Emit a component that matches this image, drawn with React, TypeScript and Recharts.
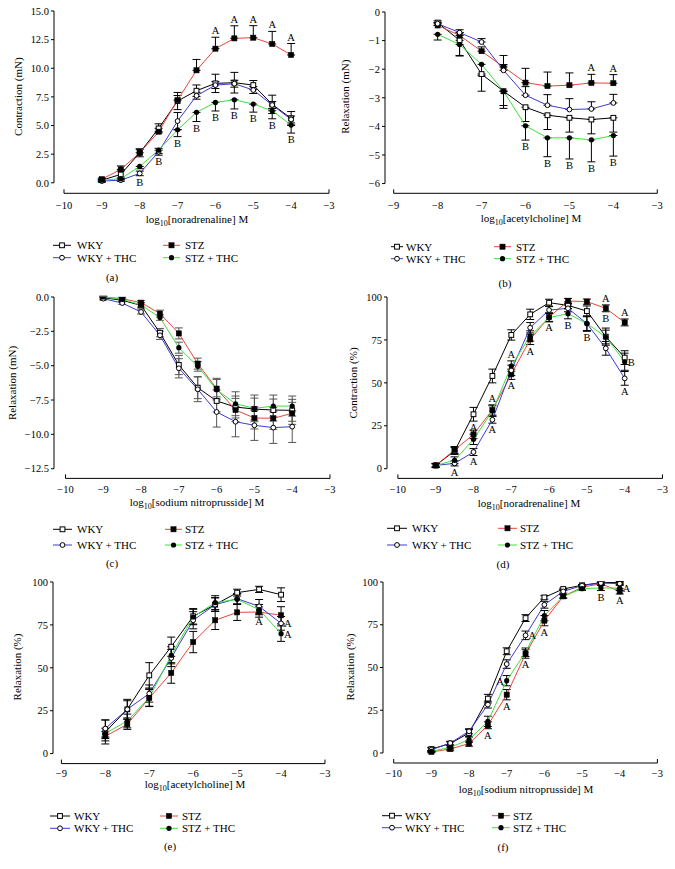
import React from 'react';
import { ComposedChart, Line, XAxis, YAxis, ErrorBar, ReferenceLine, ReferenceDot } from 'recharts';

// ---------- DATA ----------
const xFull = [-9, -8.5, -8, -7.5, -7, -6.5, -6, -5.5, -5, -4.5, -4];
const xAch = [-8, -7.5, -7, -6.5, -6, -5.5, -5, -4.5, -4];

const seriesNames = ['WKY', 'STZ', 'WKY + THC', 'STZ + THC'];

// (a) noradrenaline, mN
const aWKY = [0.23, 0.73, 2.62, 4.75, 7.14, 8.04, 8.68, 8.74, 8.53, 6.85, 5.62];
const aSTZ = [0.32, 1.17, 2.62, 4.46, 7.22, 9.82, 11.71, 12.61, 12.67, 12.12, 11.16];
const aWKYTHC = [0.15, 0.23, 0.82, 2.71, 5.39, 7.6, 8.53, 8.65, 8.1, 6.79, 5.53];
const aSTZTHC = [0.23, 0.35, 1.43, 2.85, 4.63, 6.15, 7.02, 7.25, 6.87, 6.29, 5.04];
const aWKYe = [0.1, 0.3, 0.35, 0.4, 0.75, 0.5, 0.8, 0.9, 0.4, 0.8, 0.6];
const aSTZe = [0.1, 0.3, 0.3, 0.3, 0.4, 0.95, 1.0, 1.1, 1.05, 1.1, 1.0];
const aWKYTHCe = [0.1, 0.1, 0.2, 0.3, 0.75, 0.3, 0.3, 0.3, 0.3, 0.3, 0.3];
const aSTZTHCe = [0.1, 0.1, 0.2, 0.3, 0.6, 0.8, 0.75, 0.8, 0.7, 0.7, 0.7];
const aNotes = [
  { x: -6, s: 'stz', t: 'A', p: 'above' },
  { x: -5.5, s: 'stz', t: 'A', p: 'above' },
  { x: -5, s: 'stz', t: 'A', p: 'above' },
  { x: -4.5, s: 'stz', t: 'A', p: 'above' },
  { x: -4, s: 'stz', t: 'A', p: 'above' },
  { x: -8, s: 'wkyThc', t: 'B', p: 'below' },
  { x: -7.5, s: 'wkyThc', t: 'B', p: 'below' },
  { x: -7, s: 'stzThc', t: 'B', p: 'below' },
  { x: -6.5, s: 'stzThc', t: 'B', p: 'below' },
  { x: -6, s: 'stzThc', t: 'B', p: 'below' },
  { x: -5.5, s: 'stzThc', t: 'B', p: 'below' },
  { x: -5, s: 'stzThc', t: 'B', p: 'below' },
  { x: -4.5, s: 'stzThc', t: 'B', p: 'below' },
  { x: -4, s: 'stzThc', t: 'B', p: 'below' },
];

// (b) acetylcholine, mN
const bWKY = [-0.37, -0.99, -2.17, -2.77, -3.33, -3.61, -3.7, -3.76, -3.7];
const bSTZ = [-0.47, -0.82, -1.37, -1.92, -2.47, -2.59, -2.56, -2.48, -2.49];
const bWKYTHC = [-0.41, -0.72, -1.05, -2.04, -2.91, -3.26, -3.41, -3.39, -3.18];
const bSTZTHC = [-0.78, -1.14, -1.83, -2.77, -3.98, -4.4, -4.4, -4.47, -4.32];
const bWKYe = [0.1, 0.55, 0.6, 0.6, 0.5, 0.5, 0.5, 0.5, 0.5];
const bSTZe = [0.1, 0.1, 0.15, 0.4, 0.5, 0.49, 0.43, 0.3, 0.3];
const bWKYTHCe = [0.1, 0.1, 0.12, 0.2, 0.3, 0.37, 0.38, 0.25, 0.3];
const bSTZTHCe = [0.2, 0.38, 0.4, 0.5, 0.5, 0.66, 0.74, 0.77, 0.72];
const bNotes = [
  { x: -4.5, s: 'stz', t: 'A', p: 'above' },
  { x: -4, s: 'stz', t: 'A', p: 'above' },
  { x: -6, s: 'stzThc', t: 'B', p: 'below' },
  { x: -5.5, s: 'stzThc', t: 'B', p: 'below' },
  { x: -5, s: 'stzThc', t: 'B', p: 'below' },
  { x: -4.5, s: 'stzThc', t: 'B', p: 'below' },
  { x: -4, s: 'stzThc', t: 'B', p: 'below' },
];

// (c) sodium nitroprusside, mN
const cWKY = [-0.05, -0.24, -0.61, -2.6, -4.95, -6.6, -7.57, -8.01, -8.16, -8.23, -8.25];
const cSTZ = [0, -0.12, -0.41, -1.21, -2.65, -4.85, -6.67, -8.23, -8.81, -8.83, -8.47];
const cWKYTHC = [-0.12, -0.44, -1.09, -2.79, -5.19, -6.72, -8.37, -9.08, -9.34, -9.51, -9.44];
const cSTZTHC = [0, -0.17, -0.58, -1.5, -3.69, -5.05, -6.75, -7.77, -8.11, -7.94, -7.94];
const cWKYe = [0.1, 0.1, 0.2, 0.3, 0.7, 0.8, 0.8, 0.8, 0.8, 0.8, 0.8];
const cSTZe = [0.05, 0.1, 0.15, 0.25, 0.4, 0.4, 0.75, 0.85, 0.8, 0.8, 0.8];
const cWKYTHCe = [0.1, 0.1, 0.15, 0.3, 0.7, 0.9, 1.1, 1.1, 1.1, 1.15, 1.15];
const cSTZTHCe = [0.05, 0.1, 0.15, 0.2, 0.4, 0.35, 0.75, 0.87, 0.97, 0.8, 0.73];
const cNotes: any[] = [];

// (d) noradrenaline, %
const dWKY = [1.9, 10.3, 31.7, 54.0, 77.9, 89.9, 96.7, 95.1, 91.8, 76.9, 64.7];
const dSTZ = [1.9, 10.9, 20.0, 34.2, 55.0, 75.3, 88.3, 97.7, 97.3, 93.4, 85.2];
const dWKYTHC = [1.9, 3.1, 9.7, 28.5, 57.3, 82.1, 92.4, 93.4, 84.5, 70.1, 52.6];
const dSTZTHC = [1.9, 4.9, 17.1, 33.6, 59.8, 77.3, 88.0, 90.3, 84.5, 76.7, 62.3];
const dWKYe = [1, 2, 4, 4, 3, 3, 2, 2, 3, 5, 4];
const dSTZe = [1, 2, 2.5, 3, 3, 3, 2.5, 1.5, 1.5, 2, 2];
const dWKYTHCe = [1, 1.5, 2, 2, 3, 3, 2, 2, 4, 4, 4];
const dSTZTHCe = [1, 2, 3, 3, 3, 3, 2.5, 3, 4.5, 4, 5];
const dNotes = [
  { x: -8.5, s: 'wkyThc', t: 'A', p: 'below' },
  { x: -8, s: 'wkyThc', t: 'A', p: 'below' },
  { x: -8, s: 'wky', t: 'A', p: 'below' },
  { x: -7.5, s: 'stz', t: 'A', p: 'above' },
  { x: -7.5, s: 'wkyThc', t: 'A', p: 'below' },
  { x: -7, s: 'stzThc', t: 'A', p: 'above' },
  { x: -7, s: 'stz', t: 'A', p: 'below' },
  { x: -6.5, s: 'stz', t: 'A', p: 'below' },
  { x: -6, s: 'stz', t: 'A', p: 'below' },
  { x: -5.5, s: 'stzThc', t: 'B', p: 'below' },
  { x: -5, s: 'stzThc', t: 'B', p: 'below' },
  { x: -4.5, s: 'stz', t: 'A', p: 'above' },
  { x: -4.5, s: 'stz', t: 'B', p: 'below' },
  { x: -4, s: 'stz', t: 'A', p: 'above' },
  { x: -4, s: 'stzThc', t: 'B', p: 'right' },
  { x: -4, s: 'wkyThc', t: 'A', p: 'below' },
];

// (e) acetylcholine, %
const eWKY = [12.6, 25.8, 45.6, 62.3, 80.0, 86.8, 93.8, 95.7, 92.6];
const eSTZ = [10.1, 17.1, 32.4, 47.0, 65.0, 77.7, 82.3, 82.5, 80.6];
const eWKYTHC = [14.6, 25.8, 35.0, 55.7, 77.7, 86.8, 90.3, 85.8, 75.9];
const eSTZTHC = [11.8, 19.0, 32.6, 57.3, 79.6, 88.0, 89.9, 83.9, 69.9];
const eWKYe = [7, 5.8, 7.4, 5.6, 4.5, 4, 2, 1.8, 4];
const eSTZe = [2.7, 3, 5, 6, 6.2, 5.4, 4.7, 3, 5];
const eWKYTHCe = [5, 5, 5, 5, 5, 4, 3, 4, 4];
const eSTZTHCe = [3, 4, 5, 5, 4.5, 4, 3, 3, 4.5];
const eNotes = [
  { x: -4.5, s: 'stzThc', t: 'A', p: 'below' },
  { x: -4, s: 'wkyThc', t: 'A', p: 'right' },
  { x: -4, s: 'stzThc', t: 'A', p: 'right' },
];

// (f) sodium nitroprusside, %
const fWKY = [2.3, 5.5, 11.7, 31.8, 59.5, 78.9, 91.0, 95.9, 98.1, 99.6, 99.8];
const fSTZ = [0.6, 2.3, 5.5, 16.2, 34.1, 57.9, 77.4, 91.6, 96.9, 99.0, 94.5];
const fWKYTHC = [1.9, 5.8, 12.7, 28.3, 52.0, 68.8, 86.7, 94.5, 97.9, 99.4, 99.0];
const fSTZTHC = [1.0, 3.3, 7.8, 18.5, 42.3, 58.9, 80.3, 91.6, 96.1, 96.5, 96.5];
const fWKYe = [1, 1, 2, 2.5, 2, 2, 1, 0.5, 0.5, 0.5, 0.5];
const fSTZe = [0.5, 1, 1.5, 2, 3, 2.5, 3, 1, 1, 0.5, 1.5];
const fWKYTHCe = [1, 1, 1.5, 2, 2.5, 2.5, 2, 1, 0.5, 0.5, 0.5];
const fSTZTHCe = [0.5, 1, 1.5, 3, 3, 2.5, 3, 1, 1, 1.5, 1.5];
const fNotes = [
  { x: -7.5, s: 'stz', t: 'A', p: 'below' },
  { x: -7, s: 'stz', t: 'A', p: 'below' },
  { x: -7, s: 'stzThc', t: 'A', p: 'left' },
  { x: -6.5, s: 'stz', t: 'A', p: 'below' },
  { x: -6.5, s: 'wkyThc', t: 'A', p: 'right' },
  { x: -6, s: 'stz', t: 'A', p: 'below' },
  { x: -4.5, s: 'stzThc', t: 'B', p: 'below' },
  { x: -4, s: 'stzThc', t: 'A', p: 'right' },
  { x: -4, s: 'stz', t: 'A', p: 'below' },
];

const ticks10 = [-10, -9, -8, -7, -6, -5, -4, -3];
const ticks9 = [-9, -8, -7, -6, -5, -4, -3];

// ---------- STYLE ----------
const FONT = "'Liberation Serif', 'Times New Roman', 'DejaVu Serif', serif";
const KEYS = ['wky', 'stz', 'wkyThc', 'stzThc'];
const COLORS: any = { wky: '#000000', stz: '#e8443a', wkyThc: '#3a3ad0', stzThc: '#3fde3f' };

const minus = (s: string) => s.replace('-', '\u2212');
const fmt = (d: number) => (v: number) => minus(v.toFixed(d));

function marker(k: string, cx: number, cy: number, key?: any) {
  if (cx == null || cy == null || isNaN(cx) || isNaN(cy)) return <g key={key} />;
  if (k === 'wky') return <rect key={key} x={cx - 2.4} y={cy - 2.4} width={4.8} height={4.8} fill="#fff" stroke="#000" strokeWidth={1} />;
  if (k === 'stz') return <rect key={key} x={cx - 2.6} y={cy - 2.6} width={5.2} height={5.2} fill="#000" stroke="#000" strokeWidth={0.5} />;
  if (k === 'wkyThc') return <circle key={key} cx={cx} cy={cy} r={2.4} fill="#fff" stroke="#000" strokeWidth={1} />;
  return <circle key={key} cx={cx} cy={cy} r={2.6} fill="#000" />;
}

const errVal = (dir: string, e: number) => (dir === 'up' ? [0, e] : dir === 'down' ? [e, 0] : e);

const panels: any[] = [
  {
    id: 'a', xs: xFull, vals: { wky: aWKY, stz: aSTZ, wkyThc: aWKYTHC, stzThc: aSTZTHC },
    errs: { wky: aWKYe, stz: aSTZe, wkyThc: aWKYTHCe, stzThc: aSTZTHCe },
    dirs: { wky: 'both', stz: 'up', wkyThc: 'both', stzThc: 'down' }, notes: aNotes,
    xTicks: ticks10, yTicks: [0, 2.5, 5, 7.5, 10, 12.5, 15], yFmt: fmt(1), tickGap: 6,
    plot: { l: 54, t: 10.7, r: 329, b: 193 }, xMin: -10.264, yDomain: [-0.917, 15], yRange: [0, 15],
    xLabel: 'noradrenaline', xLab: [197, 219], yLabel: 'Contraction (mN)', yLab: [18.3, 96.7],
    legend: { rows: [245.3, 257.7], cols: [[53, 71, 77], [163, 180, 185]] }, cap: [112, 276.7], errStroke: '#000',
  },
  {
    id: 'b', xs: xAch, vals: { wky: bWKY, stz: bSTZ, wkyThc: bWKYTHC, stzThc: bSTZTHC },
    errs: { wky: bWKYe, stz: bSTZe, wkyThc: bWKYTHCe, stzThc: bSTZTHCe },
    dirs: { wky: 'down', stz: 'up', wkyThc: 'up', stzThc: 'down' }, notes: bNotes,
    xTicks: ticks9, yTicks: [-6, -5, -4, -3, -2, -1, 0], yFmt: fmt(0), tickGap: 6,
    plot: { l: 385, t: 11.7, r: 657.3, b: 193 }, xMin: -9.198, yDomain: [-6.34, 0], yRange: [-6, 0],
    xLabel: 'acetylcholine', xLab: [531, 218], yLabel: 'Relaxation (mN)', yLab: [345, 96.7],
    legend: { rows: [246.7, 258.7], cols: [[391, 403, 406], [494, 511, 516]] }, cap: [505, 283.3], errStroke: '#000',
  },
  {
    id: 'c', xs: xFull, vals: { wky: cWKY, stz: cSTZ, wkyThc: cWKYTHC, stzThc: cSTZTHC },
    errs: { wky: cWKYe, stz: cSTZe, wkyThc: cWKYTHCe, stzThc: cSTZTHCe },
    dirs: { wky: 'both', stz: 'both', wkyThc: 'both', stzThc: 'both' }, notes: cNotes,
    xTicks: ticks10, yTicks: [-12.5, -10, -7.5, -5, -2.5, 0], yFmt: fmt(1), tickGap: 5,
    plot: { l: 54, t: 297.3, r: 330, b: 478.7 }, xMin: -10.304, yDomain: [-13.206, 0], yRange: [-12.5, 0],
    xLabel: 'sodium nitroprusside', xLab: [197, 502], yLabel: 'Relaxation (mN)', yLab: [11.7, 383],
    legend: { rows: [529.3, 545], cols: [[53, 72, 77], [165, 182, 185]] }, cap: [112, 563.3], errStroke: '#555',
  },
  {
    id: 'd', xs: xFull, vals: { wky: dWKY, stz: dSTZ, wkyThc: dWKYTHC, stzThc: dSTZTHC },
    errs: { wky: dWKYe, stz: dSTZe, wkyThc: dWKYTHCe, stzThc: dSTZTHCe },
    dirs: { wky: 'both', stz: 'both', wkyThc: 'both', stzThc: 'both' }, notes: dNotes,
    xTicks: ticks10, yTicks: [0, 25, 50, 75, 100], yFmt: fmt(0), tickGap: 5,
    plot: { l: 387.3, t: 297.3, r: 662.8, b: 478.7 }, xMin: -10.288, yDomain: [-5.65, 100], yRange: [0, 100],
    xLabel: 'noradrenaline', xLab: [529, 503], yLabel: 'Contraction (%)', yLab: [353, 383],
    legend: { rows: [528.3, 545], cols: [[387, 407, 412], [498, 517, 520]] }, cap: [503, 564], errStroke: '#000',
  },
  {
    id: 'e', xs: xAch, vals: { wky: eWKY, stz: eSTZ, wkyThc: eWKYTHC, stzThc: eSTZTHC },
    errs: { wky: eWKYe, stz: eSTZe, wkyThc: eWKYTHCe, stzThc: eSTZTHCe },
    dirs: { wky: 'both', stz: 'both', wkyThc: 'both', stzThc: 'both' }, notes: eNotes,
    xTicks: ticks9, yTicks: [0, 25, 50, 75, 100], yFmt: fmt(0), tickGap: 3.5,
    plot: { l: 53.3, t: 581.7, r: 325.3, b: 763.3 }, xMin: -9.191, yDomain: [-5.83, 100], yRange: [0, 100],
    xLabel: 'acetylcholine', xLab: [195, 784.5], yLabel: 'Relaxation (%)', yLab: [17, 667],
    legend: { rows: [816, 828.3], cols: [[50, 70, 74], [160, 178, 182]] }, cap: [170, 846], errStroke: '#000',
  },
  {
    id: 'f', xs: xFull, vals: { wky: fWKY, stz: fSTZ, wkyThc: fWKYTHC, stzThc: fSTZTHC },
    errs: { wky: fWKYe, stz: fSTZe, wkyThc: fWKYTHCe, stzThc: fSTZTHCe },
    dirs: { wky: 'both', stz: 'both', wkyThc: 'both', stzThc: 'both' }, notes: fNotes,
    xTicks: ticks10, yTicks: [0, 25, 50, 75, 100], yFmt: fmt(0), tickGap: 5,
    plot: { l: 383.3, t: 582.3, r: 657.7, b: 763.3 }, xMin: -10.284, yDomain: [-5.85, 100], yRange: [0, 100],
    xLabel: 'sodium nitroprusside', xLab: [526, 789], yLabel: 'Relaxation (%)', yLab: [350, 667],
    legend: { rows: [815.7, 827.7], cols: [[382, 402, 405], [492, 510, 513]] }, cap: [503, 846.7], errStroke: '#000',
  },
];

const YW = 45, MT = 6, MR = 12, XH = 22;

function PanelChart({ p }: any) {
  const left = p.plot.l - YW;
  const top = p.plot.t - MT;
  const width = p.plot.r + MR - left;
  const height = p.plot.b + XH - top;
  const rows = p.xs.map((x: number, i: number) => {
    const r: any = { x };
    KEYS.forEach((k) => {
      r[k] = p.vals[k][i];
      r[k + 'E'] = errVal(p.dirs[k], p.errs[k][i]);
    });
    return r;
  });
  const first = p.xTicks[0];
  const last = p.xTicks[p.xTicks.length - 1];
  const gap = p.tickGap + 2;
  const xTick = (props: any) => {
    const { x, y, payload } = props;
    const v = payload.value;
    const ay = y - gap;
    return (
      <g key={`xt${v}`}>
        <text x={x} y={y} dy="0.71em" textAnchor="middle" fontSize={10.5} fontFamily={FONT} fill="#000">{minus(String(v))}</text>
        {(v === first || v === last) && <line x1={x} x2={x} y1={ay} y2={ay - 4} stroke="#000" strokeWidth={1} />}
      </g>
    );
  };
  const noteShape = (n: any) => (props: any) => {
    const { cx, cy } = props;
    let x = cx, y = cy, anchor = 'middle';
    if (n.p === 'above') y = cy - 3;
    else if (n.p === 'below') y = cy + 10;
    else if (n.p === 'right') { x = cx + 3; y = cy + 4; anchor = 'start'; }
    else { x = cx - 3; y = cy + 4; anchor = 'end'; }
    return <text x={x} y={y} textAnchor={anchor as any} fontSize={10.5} fontFamily={FONT} fill="#000">{n.t}</text>;
  };
  return (
    <div style={{ position: 'absolute', left, top }}>
      <ComposedChart width={width} height={height} data={rows} margin={{ top: MT, right: MR, bottom: 0, left: 0 }}>
        <XAxis dataKey="x" type="number" domain={[p.xMin, -3]} allowDataOverflow ticks={p.xTicks} interval={0}
          axisLine={false} tickLine={false} tickSize={p.tickGap} tickMargin={2} height={XH} tick={xTick} />
        <YAxis type="number" domain={p.yDomain} allowDataOverflow ticks={p.yTicks} interval={0} width={YW}
          axisLine={false} tickLine={{ stroke: '#000' }} tickSize={3} tickMargin={2} tickFormatter={p.yFmt}
          tick={{ fontSize: 10.5, fontFamily: FONT, fill: '#000' }} />
        <ReferenceLine ifOverflow="visible" segment={[{ x: first, y: p.yDomain[0] }, { x: last, y: p.yDomain[0] }]} stroke="#000" strokeWidth={1} />
        <ReferenceLine ifOverflow="visible" segment={[{ x: p.xMin, y: p.yRange[0] }, { x: p.xMin, y: p.yRange[1] }]} stroke="#000" strokeWidth={1} />
        {KEYS.map((k) => (
          <Line key={k} dataKey={k} type="linear" stroke={COLORS[k]} strokeWidth={1} isAnimationActive={false}
            dot={(dp: any) => marker(k, dp.cx, dp.cy, `${k}${dp.index}`)} activeDot={false}>
            <ErrorBar dataKey={k + 'E'} width={4} stroke={p.errStroke} strokeWidth={1} direction="y" isAnimationActive={false} />
          </Line>
        ))}
        {p.notes.map((n: any, i: number) => {
          const idx = p.xs.indexOf(n.x);
          const v = p.vals[n.s][idx];
          const e = p.errs[n.s][idx];
          const ay = n.p === 'above' ? v + e : n.p === 'below' ? v - e : v;
          return <ReferenceDot key={`n${i}`} x={n.x} y={ay} r={0} ifOverflow="visible" shape={noteShape(n)} />;
        })}
      </ComposedChart>
    </div>
  );
}

function Overlay() {
  const legendItems = [
    { k: 'wky', row: 0, col: 0 },
    { k: 'stz', row: 0, col: 1 },
    { k: 'wkyThc', row: 1, col: 0 },
    { k: 'stzThc', row: 1, col: 1 },
  ];
  return (
    <svg width={675} height={869} style={{ position: 'absolute', left: 0, top: 0, pointerEvents: 'none' }}>
      {panels.map((p) => (
        <g key={p.id} fontFamily={FONT} fill="#000">
          <text x={p.xLab[0]} y={p.xLab[1] + 3.5} textAnchor="middle" fontSize={11}>
            log<tspan fontSize={8} dy={3}>10</tspan><tspan dy={-3}>[{p.xLabel}] M</tspan>
          </text>
          <text transform={`translate(${p.yLab[0]},${p.yLab[1]}) rotate(-90)`} textAnchor="middle" dy="0.35em" fontSize={11}>{p.yLabel}</text>
          {legendItems.map((it, i) => {
            const [x1, x2, tx] = p.legend.cols[it.col];
            const y = p.legend.rows[it.row];
            return (
              <g key={i}>
                <line x1={x1} x2={x2} y1={y} y2={y} stroke={COLORS[it.k]} strokeWidth={1} />
                {marker(it.k, (x1 + x2) / 2, y)}
                <text x={tx} y={y + 3.8} fontSize={11}>{seriesNames[KEYS.indexOf(it.k)]}</text>
              </g>
            );
          })}
          <text x={p.cap[0]} y={p.cap[1] + 3.8} textAnchor="middle" fontSize={11}>({p.id})</text>
        </g>
      ))}
    </svg>
  );
}

export default function App() {
  return (
    <div style={{ position: 'absolute', left: 0, top: 0, width: 675, height: 869, background: '#fff', overflow: 'hidden' }}>
      {panels.map((p) => <PanelChart key={p.id} p={p} />)}
      <Overlay />
    </div>
  );
}
